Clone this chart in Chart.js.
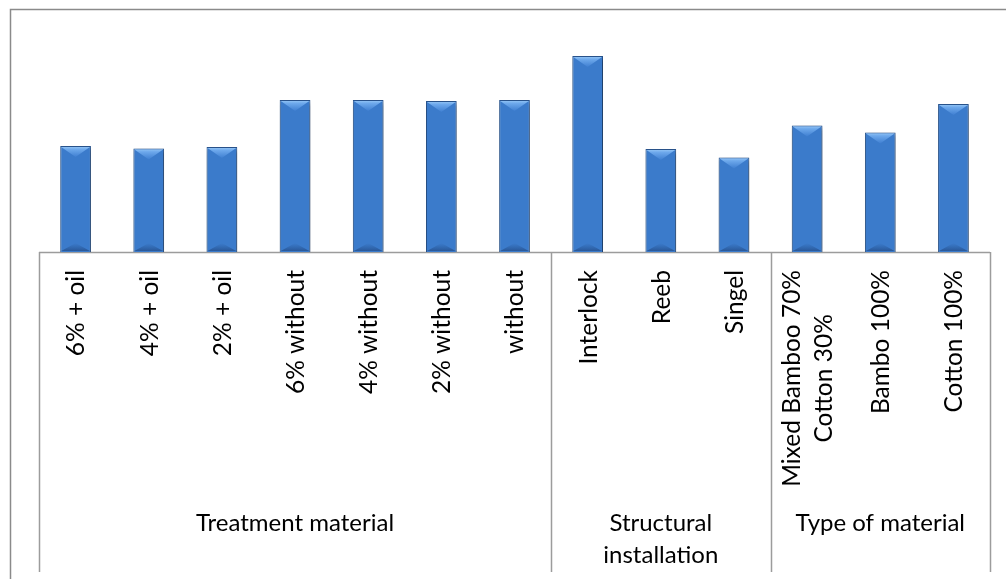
<!DOCTYPE html>
<html>
<head>
<meta charset="utf-8">
<script src="https://cdn.jsdelivr.net/npm/chart.js@4.4.1/dist/chart.umd.min.js"></script>
<style>
  html, body { margin: 0; padding: 0; background: #ffffff; }
  canvas { display: block; }
</style>
</head>
<body>
<canvas id="chart" width="1006" height="579"></canvas>
<script>
// Category labels (an array means a label broken over several lines)
const categories = [
  '6% + oil', '4% + oil', '2% + oil',
  '6% without', '4% without', '2% without', 'without',
  'Interlock', 'Reeb', 'Singel',
  ['Mixed Bamboo 70%', 'Cotton 30%'], 'Bambo 100%', 'Cotton 100%'
];

// Measured values, one per category
const values = [53, 51.8, 52.5, 76, 76, 75.5, 76, 98, 51.5, 47.3, 63.3, 59.8, 74];

// Second-level groups of the category axis
const groupNames = [['Treatment material'], ['Structural', 'installation'], ['Type of material']];
const groupSizes = [7, 3, 3];

const FONT = '24.5px Lato, "Open Sans", sans-serif';
const GROUP_FONT = '24px Lato, "Open Sans", sans-serif';
const LINE_H = 32;
const AXIS_COLOR = '#9c9c9c';

// Horizontal shading that gives each bar its rounded look
function barFill(ctx) {
  const el = ctx.element;
  const chart = ctx.chart;
  if (!el || el.width === undefined || !chart.chartArea) return '#3b7bcb';
  const x0 = el.x - el.width / 2, x1 = el.x + el.width / 2;
  const g = chart.ctx.createLinearGradient(x0, 0, x1, 0);
  g.addColorStop(0, '#224779');
  g.addColorStop(0.1, '#2f60a3');
  g.addColorStop(0.35, '#3c7bcb');
  g.addColorStop(0.6, '#3b79c8');
  g.addColorStop(0.88, '#2f62a6');
  g.addColorStop(1, '#234a80');
  return g;
}

// Frame, category axis line, group dividers, bar bevels and all axis text
const framePlugin = {
  id: 'frame',
  beforeDatasetsDraw(chart) {
    const c = chart.ctx;
    const xs = chart.scales.x;
    const area = chart.chartArea;
    const n = categories.length;
    const step = xs.getPixelForValue(1) - xs.getPixelForValue(0);
    const left = xs.getPixelForValue(0) - step / 2;
    const right = xs.getPixelForValue(n - 1) + step / 2;
    c.save();
    // outer border
    c.strokeStyle = '#8a8a8a';
    c.lineWidth = 1.5;
    c.beginPath();
    c.moveTo(10.5, 579);
    c.lineTo(10.5, 9.5);
    c.lineTo(1006, 9.5);
    c.stroke();
    // axis line
    c.strokeStyle = AXIS_COLOR;
    c.lineWidth = 1.5;
    c.beginPath();
    c.moveTo(left, area.bottom + 0.5);
    c.lineTo(right, area.bottom + 0.5);
    c.stroke();
    // group dividers
    let idx = 0;
    const bounds = [left];
    groupSizes.forEach(s => { idx += s; bounds.push(xs.getPixelForValue(idx - 1) + step / 2); });
    c.beginPath();
    bounds.forEach(b => {
      const bx = Math.round(b) + 0.5;
      c.moveTo(bx, area.bottom);
      c.lineTo(bx, 572);
    });
    c.stroke();
    c.restore();

    // soft shadow under the bars
    c.save();
    c.shadowColor = 'rgba(0,0,0,0.4)';
    c.shadowBlur = 5;
    c.shadowOffsetX = 1.5;
    c.shadowOffsetY = 1.5;
  },
  afterDatasetsDraw(chart) {
    const c = chart.ctx;
    c.restore();
    // bevels on top and bottom of each bar
    const meta = chart.getDatasetMeta(0);
    meta.data.forEach(bar => {
      const w = bar.width, x0 = bar.x - w / 2, x1 = bar.x + w / 2;
      const top = bar.y, bot = bar.base;
      const d = Math.min(11, (bot - top) / 3);
      let g = c.createLinearGradient(0, top, 0, top + d);
      g.addColorStop(0, '#9ccbf7');
      g.addColorStop(0.3, '#6ea9ec');
      g.addColorStop(1, 'rgba(64,128,210,0.95)');
      c.fillStyle = g;
      c.beginPath();
      c.moveTo(x0 + 1, top + 1);
      c.lineTo(x1 - 1, top + 1);
      c.lineTo(bar.x, top + d);
      c.closePath();
      c.fill();
      g = c.createLinearGradient(0, bot - 9, 0, bot);
      g.addColorStop(0, 'rgba(30,70,130,0)');
      g.addColorStop(1, 'rgba(25,55,105,0.6)');
      c.fillStyle = g;
      c.beginPath();
      c.moveTo(x0 + 1, bot - 1);
      c.lineTo(x1 - 1, bot - 1);
      c.lineTo(bar.x, bot - 9);
      c.closePath();
      c.fill();
    });

    // category labels, turned to read upwards, hanging below the axis
    const xs = chart.scales.x;
    const labelTop = chart.chartArea.bottom + 18;
    c.save();
    c.font = FONT;
    c.fillStyle = '#000000';
    c.textAlign = 'center';
    c.textBaseline = 'middle';
    categories.forEach((lab, i) => {
      const lines = Array.isArray(lab) ? lab : [lab];
      const maxW = Math.max(...lines.map(t => c.measureText(t).width));
      c.save();
      c.translate(xs.getPixelForValue(i) + 1, labelTop);
      c.rotate(-Math.PI / 2);
      lines.forEach((t, j) => {
        c.fillText(t, -maxW / 2, (j - (lines.length - 1) / 2) * LINE_H);
      });
      c.restore();
    });

    // group labels
    let start = 0;
    c.font = GROUP_FONT;
    c.textBaseline = 'alphabetic';
    groupNames.forEach((lines, g) => {
      const end = start + groupSizes[g] - 1;
      const cx = (xs.getPixelForValue(start) + xs.getPixelForValue(end)) / 2;
      lines.forEach((t, j) => c.fillText(t, cx, 531 + j * 31.5));
      start = end + 1;
    });
    c.restore();
  }
};

new Chart(document.getElementById('chart'), {
  type: 'bar',
  data: {
    labels: categories,
    datasets: [{
      data: values,
      backgroundColor: barFill,
      borderColor: '#2a5690',
      borderWidth: 1,
      barPercentage: 0.42,
      categoryPercentage: 1
    }]
  },
  options: {
    responsive: false,
    animation: false,
    devicePixelRatio: 1,
    layout: { padding: { left: 39, right: 16, top: 32, bottom: 327 } },
    plugins: { legend: { display: false }, tooltip: { enabled: false } },
    scales: {
      x: { display: false },
      y: { display: false, min: 0, max: 110 }
    }
  },
  plugins: [framePlugin]
});
</script>
</body>
</html>
